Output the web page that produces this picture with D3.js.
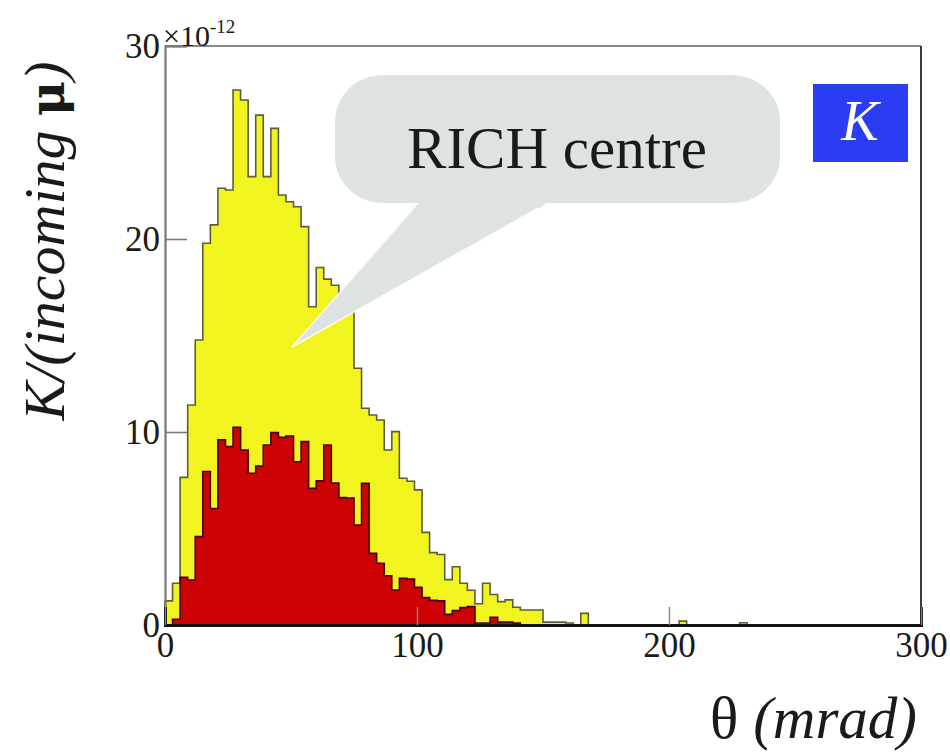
<!DOCTYPE html>
<html>
<head>
<meta charset="utf-8">
<script src="https://cdn.jsdelivr.net/npm/d3@7"></script>
<style>
  html, body { margin: 0; padding: 0; background: #fff; }
  svg { display: block; }
  text { font-family: "Liberation Serif", "DejaVu Serif", serif; fill: #1a1a1a; }
</style>
</head>
<body>
<svg id="chart" width="950" height="753"></svg>
<script>
// Histogram binning: 3 mrad bins from 0 to 300 mrad
const binWidth = 3;
const nBins = 100;

// Total kaon yield per bin (units of 1e-12 per incoming muon)
const totalK = [
  1.25, 2.16, 7.65, 11.4, 14.77, 19.78, 20.73, 22.63, 22.54, 27.72,
  27.2, 23.23, 26.42, 23.23, 25.73, 22.28, 21.93, 21.67, 20.64, 16.49,
  18.52, 17.92, 17.6, 17.0, 16.6, 13.3, 11.23, 10.88, 10.62, 9.07,
  10.02, 7.6, 7.45, 7.0, 4.8, 3.75, 3.65, 2.35, 3.02, 2.16,
  1.8, 1.1, 2.16, 1.58, 1.21, 1.3, 0.92, 0.78, 0.78, 0.78,
  0.15, 0.15, 0.15, 0.1, 0, 0.6, 0, 0, 0, 0,
  0, 0, 0, 0, 0, 0, 0, 0, 0.2, 0,
  0, 0, 0, 0, 0, 0, 0.12, 0, 0, 0
];

// Kaons reaching the RICH centre, same binning
const richCentreK = [
  0, 0.3, 2.47, 2.33, 4.58, 7.95, 6.04, 9.59, 9.24, 10.24,
  9.07, 7.86, 8.24, 9.33, 9.97, 9.72, 9.79, 8.46, 9.5, 7.08,
  7.47, 9.33, 7.35, 6.6, 6.58, 5.18, 7.34, 3.71, 3.2, 2.55,
  1.81, 2.42, 2.38, 1.95, 1.42, 1.28, 1.25, 0.55, 0.75, 0.9,
  0.95, 0.1, 0.1, 0.4, 0.15, 0.15, 0.1
];

const xTicks = [0, 100, 200, 300];
const yTicks = [0, 10, 20, 30];

const svg = d3.select("#chart");

const x = d3.scaleLinear().domain([0, 300]).range([165, 921]);
const y = d3.scaleLinear().domain([0, 30]).range([625, 46]);

// Build a closed step outline for a histogram
function stepPoints(values) {
  const pts = [[0, 0]];
  for (let i = 0; i < nBins; i++) {
    const v = values[i] || 0;
    pts.push([i * binWidth, v]);
    pts.push([(i + 1) * binWidth, v]);
  }
  pts.push([nBins * binWidth, 0]);
  return pts;
}

const line = d3.line().x(d => x(d[0])).y(d => y(d[1]));

svg.append("path")
  .attr("d", line(stepPoints(totalK)) + "Z")
  .attr("fill", "#f1f41f")
  .attr("stroke", "#5d5d3e")
  .attr("stroke-width", 1.6)
  .attr("stroke-linejoin", "miter");

svg.append("path")
  .attr("d", line(stepPoints(richCentreK)) + "Z")
  .attr("fill", "#cd0303")
  .attr("stroke", "#4a0000")
  .attr("stroke-width", 1.6)
  .attr("stroke-linejoin", "miter");

// Frame
svg.append("line").attr("x1", 165).attr("x2", 921).attr("y1", 46).attr("y2", 46)
  .attr("stroke", "#8a8a8a").attr("stroke-width", 2);
svg.append("line").attr("x1", 921).attr("x2", 921).attr("y1", 46).attr("y2", 625)
  .attr("stroke", "#3a3a3a").attr("stroke-width", 2);

// Axes
const yAxis = d3.axisLeft(y).tickValues(yTicks).tickSize(-22).tickPadding(5)
  .tickFormat(d3.format("d"));
const gy = svg.append("g").attr("transform", "translate(165,0)").call(yAxis);
gy.select(".domain").attr("stroke", "#777").attr("stroke-width", 2.2);
gy.selectAll(".tick line").attr("stroke", "#777").attr("stroke-width", 1.6);
gy.selectAll(".tick text").attr("font-size", 35).attr("fill", "#1a1a1a")
  .attr("font-family", "Liberation Serif, serif");

const xAxis = d3.axisBottom(x).tickValues(xTicks).tickSize(-18).tickPadding(7)
  .tickFormat(d3.format("d"));
const gx = svg.append("g").attr("transform", "translate(0,625)").call(xAxis);
gx.select(".domain").attr("stroke", "#111").attr("stroke-width", 3);
gx.selectAll(".tick line").attr("stroke", "#888").attr("stroke-width", 1.4);
gx.selectAll(".tick text").attr("font-size", 35).attr("fill", "#1a1a1a")
  .attr("font-family", "Liberation Serif, serif");

// Exponent label for the y axis
const expo = svg.append("text").attr("x", 163).attr("y", 46).attr("font-size", 30);
expo.append("tspan").text("×10");
expo.append("tspan").attr("font-size", 19).attr("dy", -13).text("-12");

// Axis titles
svg.append("text")
  .attr("transform", "translate(64,241) rotate(-90)")
  .attr("text-anchor", "middle")
  .attr("font-size", 58)
  .attr("font-style", "italic")
  .call(t => {
    t.append("tspan").text("K/(incoming ");
    t.append("tspan").attr("font-style", "normal").attr("font-weight", "bold")
      .attr("font-family", "DejaVu Serif, serif").attr("font-size", 48).text("μ");
    t.append("tspan").text(")");
  });

svg.append("text")
  .attr("x", 917).attr("y", 738)
  .attr("text-anchor", "end")
  .attr("font-size", 59)
  .call(t => {
    t.append("tspan").text("θ ");
    t.append("tspan").attr("font-style", "italic").text("(mrad)");
  });

// Callout balloon with pointer
const callout = svg.append("g");
callout.append("path")
  .attr("d", "M421,200 L292,347 L552,200 Z")
  .attr("fill", "#dde3e3")
  .attr("stroke", "#fbfbf0")
  .attr("stroke-width", 1.5)
  .attr("stroke-linejoin", "round");
callout.append("rect")
  .attr("x", 335).attr("y", 75).attr("width", 445).attr("height", 128)
  .attr("rx", 48).attr("ry", 46)
  .attr("fill", "#dde3e3");
callout.append("path")
  .attr("d", "M415,198 L552,198 L540,208 L428,208 Z")
  .attr("fill", "#dde3e3");
callout.append("text")
  .attr("x", 557).attr("y", 168)
  .attr("text-anchor", "middle")
  .attr("font-size", 59)
  .text("RICH centre");

// Particle tag
svg.append("rect")
  .attr("x", 813).attr("y", 84).attr("width", 95).attr("height", 78)
  .attr("fill", "#2b3df2");
svg.append("text")
  .attr("x", 860).attr("y", 140)
  .attr("text-anchor", "middle")
  .attr("font-size", 56)
  .attr("font-style", "italic")
  .style("fill", "#ffffff")
  .text("K");
</script>
</body>
</html>
